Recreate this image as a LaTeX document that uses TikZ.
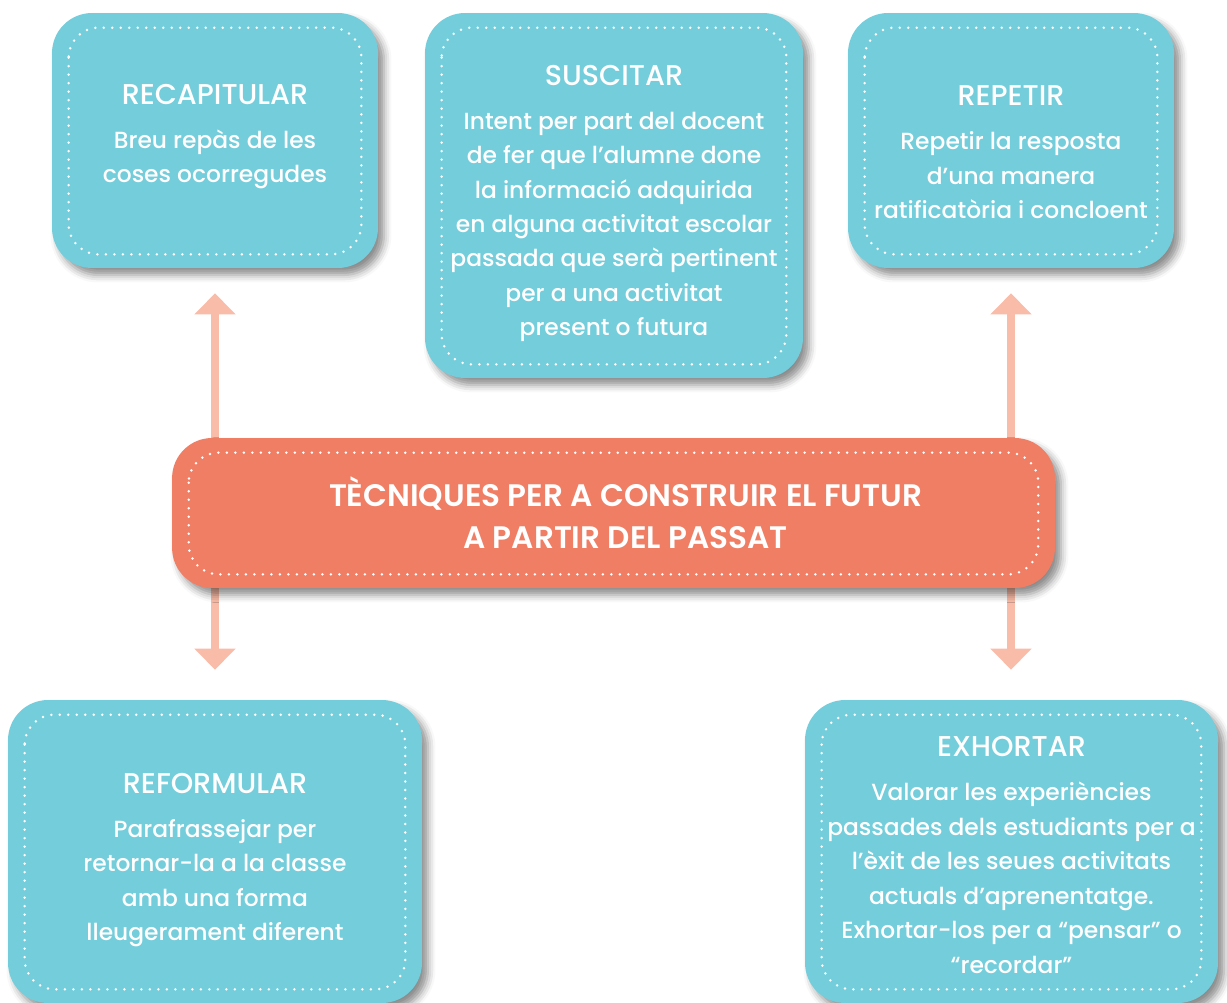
\documentclass[tikz,border=0pt]{standalone}
\usepackage{fontspec}
\setmainfont{Poppins Medium}
\newfontfamily\titlefont{Poppins SemiBold}
\usetikzlibrary{arrows.meta, positioning, shadows.blur}
\definecolor{boxteal}{RGB}{116, 205, 219}
\definecolor{coresalmon}{RGB}{240, 126, 100}
\definecolor{arrowpink}{RGB}{249, 188, 168}

\tikzset{
  tecbox/.style={fill=boxteal, rounded corners=0.8cm,
    blur shadow={shadow xshift=0.12cm, shadow yshift=-0.14cm,
      shadow blur radius=0.15cm, shadow opacity=45}},
  corebox/.style={tecbox, fill=coresalmon},
  boxtext/.style={text=white, align=center, font=\fontsize{13.3}{19.6}\selectfont},
  coretext/.style={boxtext, font=\titlefont\fontsize{17.7}{24}\selectfont},
  dotframe/.style={white, line width=0.055cm, dash pattern=on 0pt off 0.17cm,
    line cap=round, rounded corners=0.6cm},
  linkarrow/.style={arrowpink, line width=0.16cm,
    -{Triangle[width=0.8cm, length=0.42cm]}},
}
\newcommand{\boxtitle}[1]{{\fontsize{16.3}{19}\selectfont #1}\\[0.19cm]}

\begin{document}
\begin{tikzpicture}[x=0.02cm, y=-0.02cm]
  \useasboundingbox (0,0) rectangle (1227,1003);

  % technique boxes
  \node[tecbox, minimum width=6.52cm, minimum height=5.1cm] (rec) at (215,140.5) {};
  \node[tecbox, minimum width=7.56cm, minimum height=7.3cm] (sus) at (614,195.5) {};
  \node[tecbox, minimum width=6.52cm, minimum height=5.1cm] (rep) at (1011,140.5) {};
  \node[tecbox, minimum width=8.28cm, minimum height=6.06cm] (ref) at (215,851.5) {};
  \node[tecbox, minimum width=8.26cm, minimum height=6.06cm] (exh) at (1011.5,851.5) {};

  \node[boxtext] (rec-txt) at ([yshift=0.08cm]rec.center)
    {\boxtitle{RECAPITULAR}Breu repàs de les\\coses ocorregudes};
  \node[boxtext] (sus-txt) at ([yshift=-0.16cm]sus.center)
    {\boxtitle{SUSCITAR}Intent per part del docent\\de fer que l’alumne done\\la informació adquirida\\en alguna activitat escolar\\passada que serà pertinent\\per a una activitat\\present o futura};
  \node[boxtext] (rep-txt) at ([yshift=-0.24cm]rep.center)
    {\boxtitle{REPETIR}Repetir la resposta\\d’una manera\\ratificatòria i concloent};
  \node[boxtext] (ref-txt) at ([yshift=-0.17cm]ref.center)
    {\boxtitle{REFORMULAR}Parafrassejar per\\retornar-la a la classe\\amb una forma\\lleugerament diferent};
  \node[boxtext] (exh-txt) at ([yshift=-0.07cm]exh.center)
    {\boxtitle{EXHORTAR}Valorar les experiències\\passades dels estudiants per a\\l’èxit de les seues activitats\\actuals d’aprenentatge.\\Exhortar-los per a “pensar” o\\“recordar”};

  % arrows
  \draw[linkarrow] (rec.south |- 440,513) -- ([yshift=-0.5cm]rec.south);
  \draw[linkarrow] (rep.south |- 440,513) -- ([yshift=-0.5cm]rep.south);
  \draw[linkarrow] (rec.south |- 440,513) -- ([yshift=0.6cm]ref.north -| rec.south);
  \draw[linkarrow] (rep.south |- 440,513) -- ([yshift=0.6cm]exh.north -| rep.south);

  % central box
  \node[corebox, minimum width=17.66cm, minimum height=3cm] (cen) at (613.5,513) {};
  \node[coretext] (cen-txt) at ([xshift=0.24cm]cen.center)
    {TÈCNIQUES PER A CONSTRUIR EL FUTUR\\A PARTIR DEL PASSAT};

  \foreach \n in {rec, sus, rep, ref, exh, cen}
    \draw[dotframe] ([shift={(0.34cm,-0.3cm)}]\n.north west)
      rectangle ([shift={(-0.34cm,0.28cm)}]\n.south east);
\end{tikzpicture}
\end{document}
